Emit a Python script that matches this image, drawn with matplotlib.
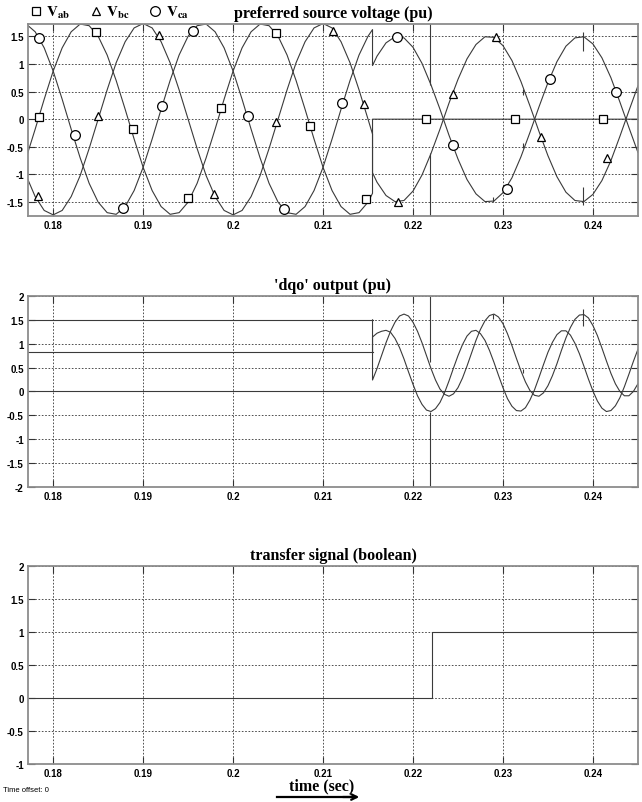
import numpy as np
import matplotlib.pyplot as plt
from matplotlib.lines import Line2D
from matplotlib.ticker import FormatStrFormatter

plt.rcParams['mathtext.fontset'] = 'stix'

# ---- preferred source voltage (pu), 1 ms samples ----
t_pre = np.append(np.arange(177, 216) / 1000, 0.2155)
t_post = np.append(0.2155, np.arange(216, 246) / 1000)

vab_pre = [-0.70, -0.18, 0.36, 0.87, 1.29, 1.58, 1.72, 1.69, 1.50, 1.16,
           0.70, 0.18, -0.36, -0.87, -1.29, -1.58, -1.72, -1.69, -1.50, -1.16,
           -0.70, -0.18, 0.36, 0.87, 1.29, 1.58, 1.72, 1.69, 1.50, 1.16,
           0.70, 0.18, -0.36, -0.87, -1.29, -1.58, -1.72, -1.69, -1.50, -1.34]
vbc_pre = [-1.02, -1.40, -1.65, -1.73, -1.65, -1.40, -1.02, -0.53, 0.0, 0.53,
           1.02, 1.40, 1.65, 1.73, 1.65, 1.40, 1.02, 0.53, 0.0, -0.53,
           -1.02, -1.40, -1.65, -1.73, -1.65, -1.40, -1.02, -0.53, 0.0, 0.53,
           1.02, 1.40, 1.65, 1.73, 1.65, 1.40, 1.02, 0.53, 0.0, -0.27]
vca_pre = [1.72, 1.58, 1.29, 0.87, 0.36, -0.18, -0.70, -1.16, -1.50, -1.69,
           -1.72, -1.58, -1.29, -0.87, -0.36, 0.18, 0.70, 1.16, 1.50, 1.69,
           1.72, 1.58, 1.29, 0.87, 0.36, -0.18, -0.70, -1.16, -1.50, -1.69,
           -1.72, -1.58, -1.29, -0.87, -0.36, 0.18, 0.70, 1.16, 1.50, 1.62]

vab_post = [0.0, 0.0, 0.0, 0.0, 0.0, 0.0, 0.0, 0.0, 0.0, 0.0, 0.0,
            0.0, 0.0, 0.0, 0.0, 0.0, 0.0, 0.0, 0.0, 0.0, 0.0,
            0.0, 0.0, 0.0, 0.0, 0.0, 0.0, 0.0, 0.0, 0.0, 0.0]
vbc_post = [-0.97, -1.14, -1.38, -1.49, -1.47, -1.30, -1.01, -0.62, -0.18, 0.29,
            0.72, 1.09, 1.35, 1.49, 1.48, 1.33, 1.06, 0.68, 0.24, -0.22,
            -0.66, -1.04, -1.32, -1.47, -1.49, -1.36, -1.11, -0.75, -0.31, 0.15, 0.60]
vca_post = [0.97, 1.14, 1.38, 1.49, 1.47, 1.30, 1.01, 0.62, 0.18, -0.29,
            -0.72, -1.09, -1.35, -1.49, -1.48, -1.33, -1.06, -0.68, -0.24, 0.22,
            0.66, 1.04, 1.32, 1.47, 1.49, 1.36, 1.11, 0.75, 0.31, -0.15, -0.60]

# markers
sq_t = [0.1784, 0.1848, 0.1889, 0.1950, 0.1987, 0.2048, 0.2086, 0.2148, 0.2214, 0.2313, 0.2411]
sq_v = [0.04, 1.57, -0.17, -1.42, 0.20, 1.55, -0.12, -1.45, 0.0, 0.0, 0.0]
tri_t = [0.1783, 0.1850, 0.1918, 0.1979, 0.2048, 0.2111, 0.2145, 0.2183, 0.2244, 0.2292, 0.2342, 0.2416]
tri_v = [-1.38, 0.05, 1.52, -1.35, -0.05, 1.60, 0.27, -1.49, 0.46, 1.49, -0.32, -0.70]
cir_t = [0.1784, 0.1824, 0.1878, 0.1921, 0.1955, 0.2017, 0.2057, 0.2121, 0.2182, 0.2244, 0.2304, 0.2352, 0.2426]
cir_v = [1.46, -0.29, -1.60, 0.24, 1.60, 0.05, -1.62, 0.29, 1.49, -0.46, -1.27, 0.72, 0.49]

# spikes / glitches (t, low, high)
top_spikes = [(0.2219, 0.62, 1.75), (0.2219, -1.75, -0.62),
              (0.2389, 1.23, 1.57), (0.2389, -1.55, -1.23),
              (0.2289, -1.50, -1.40), (0.2322, 0.43, 0.55), (0.2322, -0.52, -0.43)]

# ---- dqo output (pu) ----
dq_pre_t = [0.177, 0.2155]
d_pre = [1.5, 1.5]
q_pre = [0.83, 0.83]
o_t = [0.177, 0.245]
o_v = [0.0, 0.0]
dq_post_t = np.arange(431, 491) / 2000
d_post = [0.24, 0.48, 0.75, 1.02, 1.26, 1.45, 1.58, 1.62, 1.58, 1.45,
          1.26, 1.02, 0.75, 0.48, 0.24, 0.05, -0.06, -0.10, -0.05, 0.08,
          0.28, 0.53, 0.80, 1.07, 1.30, 1.48, 1.59, 1.62, 1.56, 1.42,
          1.21, 0.96, 0.69, 0.43, 0.20, 0.02, -0.08, -0.10, -0.03, 0.12,
          0.33, 0.58, 0.86, 1.12, 1.34, 1.51, 1.60, 1.61, 1.54, 1.38,
          1.17, 0.91, 0.64, 0.38, 0.16, 0.00, -0.09, -0.09, 0.00, 0.16]
q_post = [1.14, 1.22, 1.26, 1.28, 1.24, 1.11, 0.92, 0.68, 0.41, 0.15,
          -0.09, -0.27, -0.39, -0.42, -0.36, -0.23, -0.03, 0.22, 0.49, 0.75,
          0.98, 1.16, 1.26, 1.28, 1.21, 1.07, 0.86, 0.61, 0.34, 0.08,
          -0.15, -0.31, -0.40, -0.41, -0.34, -0.18, 0.03, 0.29, 0.56, 0.82,
          1.03, 1.19, 1.27, 1.27, 1.18, 1.01, 0.79, 0.53, 0.26, 0.01,
          -0.20, -0.35, -0.42, -0.40, -0.30, -0.13, 0.10, 0.36, 0.63, 0.88]
mid_spikes = [(0.2219, 0.62, 2.0), (0.2219, -2.0, -0.42),
              (0.2389, 1.38, 1.73), (0.2289, 1.52, 1.63), (0.2322, 0.38, 0.48)]

# ---- transfer signal (boolean) ----
sig_t = [0.177, 0.2221, 0.2221, 0.245]
sig_v = [0, 0, 1, 1]

xticks = [0.18, 0.19, 0.20, 0.21, 0.22, 0.23, 0.24]
xlabels = ['0.18', '0.19', '0.2', '0.21', '0.22', '0.23', '0.24']

fig = plt.figure(figsize=(6.42, 8.03), dpi=100)
ax1 = fig.add_axes([0.0436, 0.7298, 0.950, 0.239])
ax2 = fig.add_axes([0.0436, 0.3923, 0.950, 0.2379])
ax3 = fig.add_axes([0.0436, 0.0473, 0.950, 0.2466])

lc = '#3a3a3a'
lw = 0.8


def style(ax, ylim, yticks, title):
    ax.set_xlim(0.1772, 0.245)
    ax.set_ylim(*ylim)
    ax.set_xticks(xticks)
    ax.set_xticklabels(xlabels)
    ax.set_yticks(yticks)
    ax.yaxis.set_major_formatter(FormatStrFormatter('%g'))
    ax.grid(True, color='#333333', ls=(0, (2, 2)), lw=0.6)
    ax.tick_params(direction='in', length=5, top=True, right=True,
                   labelsize=7, pad=3, color='#333333')
    for lab in ax.get_xticklabels() + ax.get_yticklabels():
        lab.set_fontweight('bold')
        lab.set_fontfamily('Liberation Sans')
    for s in ax.spines.values():
        s.set_color('#8c8c8c')
        s.set_linewidth(1.3)
    ax.set_title(title, fontfamily='Liberation Serif', fontweight='bold',
                 fontsize=11.5, pad=5)


# top panel
t_all = np.concatenate([t_pre, t_post])
ax1.plot(t_all, vab_pre + vab_post, color=lc, lw=lw)
ax1.plot(t_all, vbc_pre + vbc_post, color=lc, lw=lw)
ax1.plot(t_all, vca_pre + vca_post, color=lc, lw=lw)
for t, lo, hi in top_spikes:
    ax1.vlines(t, lo, hi, color=lc, lw=lw)
mk = dict(ls='none', mfc='white', mec='black', mew=0.9, zorder=5)
ax1.plot(sq_t, sq_v, marker='s', ms=5.5, **mk)
ax1.plot(tri_t, tri_v, marker='^', ms=6, **mk)
ax1.plot(cir_t, cir_v, marker='o', ms=7, **mk)
style(ax1, (-1.75, 1.72), [-1.5, -1, -0.5, 0, 0.5, 1, 1.5],
      'preferred source voltage (pu)')

# middle panel
ax2.plot(dq_pre_t, d_pre, color=lc, lw=lw)
ax2.plot(dq_pre_t, q_pre, color=lc, lw=lw)
ax2.plot(o_t, o_v, color=lc, lw=lw)
ax2.plot(np.append(0.2155, dq_post_t), [1.5] + d_post, color=lc, lw=lw)
ax2.plot(np.append(0.2155, dq_post_t), [0.83] + q_post, color=lc, lw=lw)
for t, lo, hi in mid_spikes:
    ax2.vlines(t, lo, hi, color=lc, lw=lw)
style(ax2, (-2, 2), [-2, -1.5, -1, -0.5, 0, 0.5, 1, 1.5, 2], "'dqo' output (pu)")

# bottom panel
ax3.plot(sig_t, sig_v, color=lc, lw=lw)
style(ax3, (-1, 2), [-1, -0.5, 0, 0.5, 1, 1.5, 2], 'transfer signal (boolean)')

# legend
handles = [Line2D([], [], marker='s', ms=5.5, **mk),
           Line2D([], [], marker='^', ms=6, **mk),
           Line2D([], [], marker='o', ms=7, **mk)]
labels = [r'$\mathbf{V_{ab}}$', r'$\mathbf{V_{bc}}$', r'$\mathbf{V_{ca}}$']
fig.legend(handles, labels, loc='center left', bbox_to_anchor=(0.045, 1 - 13 / 803),
           ncol=3, frameon=False, handlelength=0.9, handletextpad=0.25,
           columnspacing=1.2, fontsize=11, borderaxespad=0, borderpad=0)

fig.text(322 / 642, 1 - 786 / 803, 'time (sec)', ha='center', va='center',
         fontfamily='Liberation Serif', fontweight='bold', fontsize=11.5)
fig.add_artist(plt.Line2D([277 / 642, 356 / 642], [1 - 798 / 803, 1 - 798 / 803],
                          color='black', lw=1.6))
ax3.annotate('', xy=(362 / 642, 1 - 798 / 803), xytext=(340 / 642, 1 - 798 / 803),
             xycoords='figure fraction', textcoords='figure fraction',
             arrowprops=dict(arrowstyle='->', lw=1.6, color='black'))
fig.text(3 / 642, 1 - 791 / 803, 'Time offset: 0', ha='left', va='center',
         fontfamily='Liberation Sans', fontsize=5.5)

fig.savefig('out.png', dpi=100)
